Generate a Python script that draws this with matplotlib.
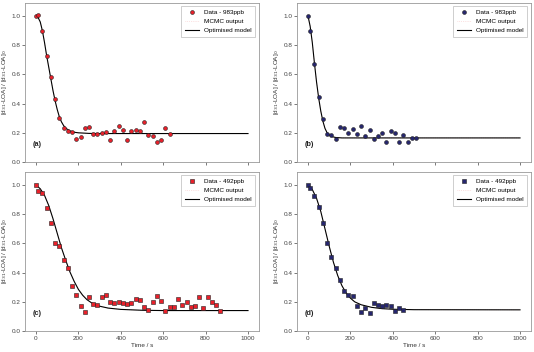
import numpy as np
import matplotlib.pyplot as plt

plt.rcParams['font.family'] = ['Liberation Sans', 'DejaVu Sans']

# panel (a): 983ppb, red circles
t_a = [0, 10, 30, 50, 70, 90, 110, 130, 150, 170, 190, 210, 230, 250, 270, 290, 310,
       330, 350, 370, 390, 410, 430, 450, 470, 490, 510, 530, 550, 570, 590, 610, 630]
y_a = [1.0, 1.005, 0.895, 0.727, 0.58, 0.433, 0.30, 0.235, 0.21, 0.205, 0.16, 0.168,
       0.235, 0.24, 0.19, 0.19, 0.2, 0.205, 0.15, 0.215, 0.25, 0.22, 0.15, 0.21, 0.22,
       0.215, 0.275, 0.185, 0.18, 0.135, 0.148, 0.23, 0.195]
mt_a = [0, 10, 20, 30, 40, 50, 60, 70, 80, 90, 100, 110, 120, 130, 140, 160, 180, 200,
        250, 300, 1000]
my_a = [1.0, 0.99, 0.96, 0.90, 0.82, 0.73, 0.65, 0.57, 0.49, 0.42, 0.36, 0.31, 0.275,
        0.25, 0.232, 0.213, 0.204, 0.2, 0.196, 0.195, 0.195]

# panel (b): 983ppb, navy circles
t_b = [0, 10, 30, 50, 70, 90, 110, 130, 150, 170, 190, 210, 230, 250, 270, 290, 310,
       330, 350, 370, 390, 410, 430, 450, 470, 490, 510]
y_b = [1.0, 0.897, 0.67, 0.445, 0.295, 0.19, 0.185, 0.16, 0.24, 0.23, 0.2, 0.225, 0.19,
       0.245, 0.175, 0.22, 0.16, 0.175, 0.2, 0.14, 0.21, 0.2, 0.135, 0.185, 0.14, 0.165,
       0.165]
mt_b = [0, 10, 20, 30, 40, 50, 60, 70, 80, 90, 100, 110, 130, 160, 1000]
my_b = [1.0, 0.93, 0.82, 0.68, 0.55, 0.44, 0.35, 0.28, 0.23, 0.2, 0.185, 0.175, 0.168,
        0.165, 0.165]

# panel (c): 492ppb, red squares
t_c = [0, 10, 30, 50, 70, 90, 110, 130, 150, 170, 190, 210, 230, 250, 270, 290, 310,
       330, 350, 370, 390, 410, 430, 450, 470, 490, 510, 530, 550, 570, 590, 610, 630,
       650, 670, 690, 710, 730, 750, 770, 790, 810, 830, 850, 870]
y_c = [1.0, 0.96, 0.945, 0.84, 0.743, 0.604, 0.58, 0.485, 0.43, 0.31, 0.245, 0.17, 0.13,
       0.23, 0.185, 0.18, 0.23, 0.25, 0.2, 0.195, 0.2, 0.195, 0.185, 0.19, 0.22, 0.21,
       0.165, 0.145, 0.2, 0.24, 0.205, 0.14, 0.165, 0.165, 0.22, 0.18, 0.2, 0.165, 0.17,
       0.235, 0.155, 0.235, 0.2, 0.18, 0.14]
mt_c = [0, 20, 40, 60, 80, 100, 120, 140, 160, 180, 200, 220, 240, 260, 280, 300, 340,
        400, 500, 600, 1000]
my_c = [1.0, 0.975, 0.93, 0.86, 0.77, 0.67, 0.57, 0.485, 0.405, 0.34, 0.285, 0.245, 0.215,
        0.195, 0.18, 0.17, 0.157, 0.148, 0.142, 0.14, 0.14]

# panel (d): 492ppb, navy squares
t_d = [0, 10, 30, 50, 70, 90, 110, 130, 150, 170, 190, 210, 230, 250, 270, 290, 310,
       330, 350, 370, 390, 410, 430, 450]
y_d = [1.0, 0.98, 0.925, 0.852, 0.738, 0.606, 0.508, 0.433, 0.351, 0.275, 0.248, 0.24,
       0.168, 0.13, 0.16, 0.122, 0.195, 0.175, 0.17, 0.18, 0.17, 0.14, 0.155, 0.145]
mt_d = [0, 20, 40, 60, 80, 100, 120, 140, 160, 180, 200, 220, 250, 300, 350, 400, 500,
        1000]
my_d = [1.0, 0.97, 0.91, 0.82, 0.70, 0.58, 0.47, 0.38, 0.31, 0.26, 0.225, 0.2, 0.18,
        0.162, 0.153, 0.149, 0.146, 0.145]

red = '#e8202a'
navy = '#26266e'
panels = [
    ('(a)', t_a, y_a, mt_a, my_a, red, 'o', 'Data - 983ppb'),
    ('(b)', t_b, y_b, mt_b, my_b, navy, 'o', 'Data - 983ppb'),
    ('(c)', t_c, y_c, mt_c, my_c, red, 's', 'Data - 492ppb'),
    ('(d)', t_d, y_d, mt_d, my_d, navy, 's', 'Data - 492ppb'),
]
boxes = [[0.0476, 0.5398, 0.4367, 0.4517], [0.557, 0.5398, 0.4367, 0.4517],
         [0.0476, 0.0597, 0.4367, 0.4517], [0.557, 0.0597, 0.4367, 0.4517]]

fig = plt.figure(figsize=(5.34, 3.52), dpi=100)
fs = 4.6
for i, (lab, t, y, mt, my, col, mk, dlab) in enumerate(panels):
    ax = fig.add_axes(boxes[i])
    ax.plot(t, y, mk, color=col, markersize=2.8, markeredgecolor='#222222',
            markeredgewidth=0.4, label=dlab, zorder=4)
    ax.plot(mt, my, color='#f4a0a0', lw=0.5, alpha=0.6, ls=':', label='MCMC output', zorder=2)
    ax.plot(mt, my, color='black', lw=0.8, label='Optimised model', zorder=3)
    ax.set_xlim(-50, 1050)
    ax.set_ylim(0, 1.09)
    ax.set_xticks([0, 200, 400, 600, 800, 1000])
    ax.set_yticks([0.0, 0.2, 0.4, 0.6, 0.8, 1.0])
    ax.tick_params(labelsize=fs, length=2, width=0.5, pad=1.5, colors='#444444')
    for s in ax.spines.values():
        s.set_color('#999999')
        s.set_linewidth(0.6)
    if i < 2:
        ax.set_xticklabels([])
    else:
        ax.set_xlabel('Time / s', fontsize=fs, labelpad=1.5, color='#333333')
    ax.set_ylabel('[d$_{31}$-LOA] / [d$_{31}$-LOA]$_0$', fontsize=fs, labelpad=2,
                  color='#333333')
    ax.text(0.03, 0.1, lab, transform=ax.transAxes, fontsize=fs + 0.6,
            fontweight='bold', color='#222222')
    leg = ax.legend(loc='upper right', fontsize=fs, frameon=True, fancybox=False,
                    borderpad=0.6, handlelength=2.2, labelspacing=0.5)
    leg.get_frame().set_edgecolor('#aaaaaa')
    leg.get_frame().set_linewidth(0.5)

fig.savefig('out.png', dpi=100)
